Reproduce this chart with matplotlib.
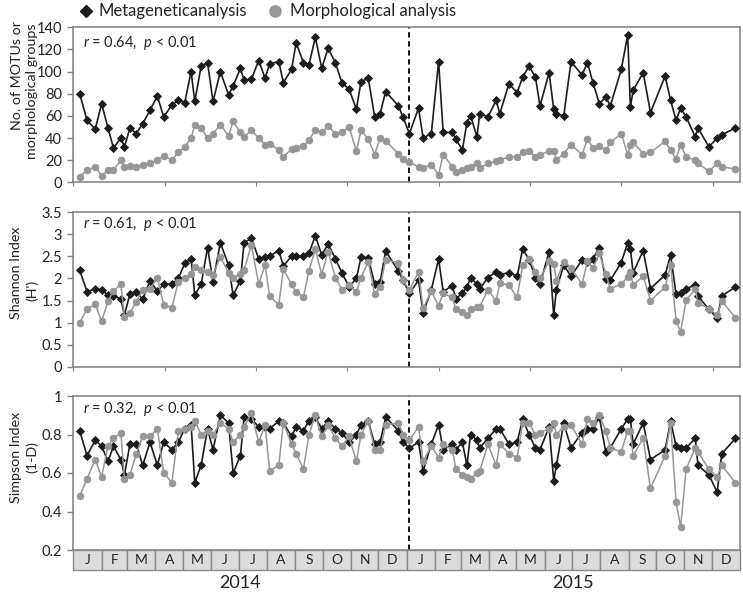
import numpy as np
import matplotlib
matplotlib.use('Agg')
import matplotlib.pyplot as plt
import matplotlib.transforms as mtransforms
from matplotlib.patches import Rectangle
from matplotlib.lines import Line2D
from matplotlib.ticker import FuncFormatter

plt.rcParams['font.family'] = ['Lato', 'DejaVu Sans']
plt.rcParams['mathtext.fontset'] = 'custom'
plt.rcParams['mathtext.rm'] = 'Lato'
plt.rcParams['mathtext.it'] = 'Lato:italic'

# sampling dates, days after 1 Jan 2014
sample_day = [7, 15, 24, 31, 38, 44, 52, 56, 62, 69, 76, 84, 92, 99, 108, 115, 122, 129, 133, 140,
              147, 153, 161, 170, 175, 183, 187, 195, 203, 210, 215, 225, 230, 239, 244, 252, 258, 265,
              272, 279, 287, 294, 302, 310, 315, 323, 330, 336, 342, 356, 361, 368,
              378, 383, 392, 400, 405, 415, 419, 426, 431, 435, 442, 445, 454, 463, 467, 477, 486, 492,
              499, 506, 511, 521, 526, 529, 537, 545, 557, 563, 569, 576, 583, 588, 600, 607, 610, 613,
              624, 632, 648, 654, 660, 665, 671, 681, 684, 696, 705, 710, 725]
n_first_year = 52

meta_motu = [80, 56, 48, 71, 49, 31, 40, 32, 49, 44, 53, 65, 78, 59, 70, 74, 72, 100, 73, 105,
             108, 73, 100, 79, 87, 103, 92, 93, 110, 94, 107, 109, 90, 102, 126, 108, 106, 131,
             103, 121, 108, 90, 84, 66, 91, 94, 59, 62, 82, 69, 59, 44,
             67, 40, 44, 109, 45, 45, 39, 29, 54, 60, 41, 62, 59, 74, 62, 89, 81, 95, 105, 95,
             69, 99, 66, 62, 60, 109, 97, 108, 90, 71, 77, 69, 102, 133, 68, 83, 99, 63, 96, 74,
             56, 67, 59, 41, 49, 32, 40, 43, 49]
morph_motu = [5, 11, 14, 6, 11, 11, 20, 14, 15, 14, 16, 17, 20, 24, 20, 27, 32, 40, 52, 49,
              40, 44, 52, 42, 55, 45, 41, 47, 40, 34, 35, 29, 23, 30, 31, 33, 38, 47, 45, 51,
              44, 45, 50, 28, 47, 39, 25, 40, 37, 26, 21, 18,
              14, 13, 16, 7, 25, 14, 9, 11, 13, 14, 17, 13, 17, 19, 20, 23, 23, 27, 28, 23,
              25, 28, 28, 20, 26, 34, 25, 39, 31, 33, 29, 36, 44, 25, 34, 36, 26, 27, 37, 29,
              21, 34, 23, 20, 17, 10, 17, 14, 12]

meta_shannon = [2.19, 1.70, 1.76, 1.75, 1.62, 1.60, 1.54, 1.17, 1.65, 1.70, 1.53, 1.95, 1.71, 1.87,
                1.87, 2.00, 2.34, 2.45, 1.62, 1.87, 2.70, 1.93, 2.81, 2.30, 1.62, 1.95, 2.81, 2.91,
                2.45, 2.48, 2.51, 2.63, 2.28, 2.51, 2.51, 2.51, 2.57, 2.97, 2.53, 2.78, 2.45, 2.13,
                1.81, 2.00, 2.48, 2.47, 1.87, 1.93, 2.62, 2.17, 1.96, 1.66,
                1.96, 1.22, 1.74, 2.44, 1.70, 1.84, 1.53, 1.68, 1.80, 2.02, 1.87, 1.76, 2.02, 2.15,
                2.09, 2.13, 2.05, 2.67, 2.43, 2.02, 1.87, 2.61, 1.17, 1.75, 2.30, 2.05, 2.42, 2.38,
                2.45, 2.70, 1.98, 1.96, 2.36, 2.81, 2.67, 2.13, 2.63, 1.77, 2.08, 2.53, 1.65, 1.68,
                1.77, 1.85, 1.60, 1.30, 1.10, 1.60, 1.81]
morph_shannon = [1.00, 1.30, 1.42, 1.03, 1.49, 1.72, 1.87, 1.13, 1.22, 1.47, 1.74, 1.76, 2.02, 1.40,
                 1.34, 1.93, 2.00, 2.10, 2.27, 2.19, 2.15, 2.08, 2.49, 2.13, 2.02, 2.10, 2.19, 2.76,
                 1.87, 2.30, 1.60, 1.40, 2.21, 1.87, 1.70, 1.57, 2.18, 2.66, 2.09, 2.61, 2.02, 1.75,
                 1.85, 1.70, 2.02, 2.38, 1.65, 1.81, 2.42, 2.36, 1.96, 1.74,
                 2.15, 1.32, 1.71, 1.38, 1.66, 1.57, 1.30, 1.25, 1.17, 1.30, 1.36, 1.36, 1.74, 1.49,
                 1.89, 1.85, 1.57, 2.30, 2.45, 2.15, 2.00, 2.39, 2.33, 1.95, 2.38, 2.24, 1.87, 2.39,
                 2.23, 2.57, 2.11, 1.77, 1.87, 2.04, 2.15, 1.85, 2.05, 1.50, 1.80, 2.30, 1.04, 0.79,
                 1.51, 1.76, 1.45, 1.31, 1.17, 1.49, 1.11]

meta_simpson = [0.82, 0.69, 0.77, 0.74, 0.66, 0.74, 0.67, 0.59, 0.75, 0.75, 0.64, 0.76, 0.64, 0.76,
                0.72, 0.76, 0.83, 0.85, 0.55, 0.64, 0.83, 0.72, 0.90, 0.86, 0.60, 0.69, 0.89, 0.88,
                0.84, 0.84, 0.83, 0.87, 0.86, 0.79, 0.84, 0.82, 0.87, 0.89, 0.83, 0.87, 0.83, 0.81,
                0.76, 0.80, 0.85, 0.87, 0.75, 0.76, 0.89, 0.82, 0.76, 0.73,
                0.76, 0.61, 0.75, 0.85, 0.72, 0.75, 0.72, 0.76, 0.64, 0.80, 0.77, 0.73, 0.78, 0.83,
                0.83, 0.75, 0.76, 0.88, 0.80, 0.73, 0.72, 0.84, 0.56, 0.64, 0.86, 0.73, 0.81, 0.83,
                0.83, 0.89, 0.71, 0.73, 0.83, 0.88, 0.88, 0.75, 0.86, 0.67, 0.72, 0.87, 0.74, 0.73,
                0.73, 0.78, 0.64, 0.59, 0.50, 0.70, 0.78]
morph_simpson = [0.48, 0.57, 0.67, 0.58, 0.74, 0.78, 0.81, 0.57, 0.59, 0.70, 0.79, 0.79, 0.83, 0.60,
                 0.55, 0.82, 0.83, 0.84, 0.87, 0.80, 0.82, 0.80, 0.86, 0.83, 0.76, 0.80, 0.84, 0.91,
                 0.76, 0.85, 0.61, 0.64, 0.86, 0.75, 0.70, 0.62, 0.80, 0.90, 0.79, 0.85, 0.78, 0.74,
                 0.79, 0.66, 0.80, 0.87, 0.72, 0.72, 0.85, 0.86, 0.80, 0.77,
                 0.84, 0.66, 0.74, 0.68, 0.75, 0.72, 0.62, 0.59, 0.58, 0.57, 0.60, 0.61, 0.75, 0.64,
                 0.75, 0.70, 0.68, 0.86, 0.86, 0.80, 0.81, 0.83, 0.86, 0.80, 0.84, 0.85, 0.75, 0.88,
                 0.86, 0.90, 0.82, 0.73, 0.71, 0.82, 0.82, 0.69, 0.78, 0.52, 0.69, 0.86, 0.45, 0.32,
                 0.62, 0.73, 0.71, 0.62, 0.58, 0.64, 0.55]

corr_text = ['0.64', '0.61', '0.32']
month_letters = ['J', 'F', 'M', 'A', 'M', 'J', 'J', 'A', 'S', 'O', 'N', 'D']
years = ['2014', '2015']

BLACK = '#1c1c1c'
GREY = '#969696'
FRAME = '#7f7f7f'

W, H = 743, 593
fig = plt.figure(figsize=(W / 100, H / 100), dpi=100)


def add_panel(top, bottom):
    left, right = 73.3, 740
    return fig.add_axes([left / W, 1 - bottom / H, (right - left) / W, (bottom - top) / H])


panels = [
    (27.3, 182.3, meta_motu, morph_motu, (0, 140), np.arange(0, 141, 20)),
    (212.3, 366.7, meta_shannon, morph_shannon, (0, 3.5), np.arange(0, 3.51, 0.5)),
    (396, 550, meta_simpson, morph_simpson, (0.2, 1.0), np.arange(0.2, 1.01, 0.2)),
]

axes = []
for i, (top, bottom, meta, morph, ylim, yticks) in enumerate(panels):
    ax = add_panel(top, bottom)
    ax.plot(sample_day, meta, color=BLACK, lw=1.2, marker='D', ms=4.0, mfc=BLACK, mec=BLACK,
            mew=0.6, zorder=3)
    ax.plot(sample_day, morph, color=GREY, lw=1.1, marker='o', ms=4.9, mfc=GREY, mec=GREY,
            mew=0.5, zorder=4)
    ax.axvline(sample_day[n_first_year - 1], color='black', lw=1.3, ls=(0, (3, 2)), zorder=2)
    ax.set_xlim(0, 730)
    ax.set_ylim(*ylim)
    ax.set_yticks(yticks)
    ax.yaxis.set_major_formatter(FuncFormatter(lambda v, p: f'{v:g}'))
    ax.set_xticks(np.arange(0, 730, 100))
    ax.tick_params(axis='x', direction='out', length=3 if i < 2 else 0, color=FRAME,
                   labelbottom=False)
    ax.tick_params(axis='y', direction='out', length=4, width=1, color=FRAME,
                   labelsize=10.5, pad=4, labelcolor='#222222')
    for sp in ax.spines.values():
        sp.set_color(FRAME)
        sp.set_linewidth(1.1)
    ax.text(0.015, [0.90, 0.924, 0.915][i], f'$r$ = {corr_text[i]},  $p$ < 0.01',
            transform=ax.transAxes, fontsize=10.5, ha='left', va='center', color='#222222')
    axes.append(ax)

# y-axis titles, line by line as in the reference
ylab = [
    ('No. of MOTUs or', 17, 76), ('morphological groups', 32, 91),
    ('Shannon Index', 16, 273), ("(H')", 32, 290),
    ('Simpson Index', 16, 457), ('(1-D)', 32, 457),
]
for txt, x, y in ylab:
    fig.text(x / W, 1 - y / H, txt, rotation=90, ha='center', va='center', fontsize=10.3,
             color='#222222')

# month boxes under the bottom panel
ax = axes[-1]
trans = mtransforms.blended_transform_factory(ax.transData, ax.transAxes)
starts = np.arange(np.datetime64('2014-01'), np.datetime64('2016-02'), np.timedelta64(1, 'M'))
start_days = (starts.astype('datetime64[D]') - np.datetime64('2014-01-01')).astype(int)
box_h = 20 / 154
for k in range(24):
    x0, x1 = start_days[k], start_days[k + 1]
    ax.add_patch(Rectangle((x0, -box_h), x1 - x0, box_h, transform=trans, clip_on=False,
                           facecolor='#dcdcdc', edgecolor='#8a8a8a', lw=1, zorder=5))
    ax.text((x0 + x1) / 2, -box_h / 2, month_letters[k % 12], transform=trans, ha='center',
            va='center', fontsize=10, color='#222222', zorder=6)
for j, yr in enumerate(years):
    ax.text((start_days[12 * j] + start_days[12 * j + 12]) / 2, -33 / 154, yr, transform=trans,
            ha='center', va='center', fontsize=13, color='#222222')

# legend
fig.add_artist(Line2D([86 / W], [1 - 11 / H], marker='D', ms=6.5, color=BLACK, ls='none',
                      transform=fig.transFigure))
fig.text(98 / W, 1 - 11 / H, 'Metageneticanalysis', ha='left', va='center', fontsize=12,
         color='#222222')
fig.add_artist(Line2D([275 / W], [1 - 11 / H], marker='o', ms=8, color=GREY, ls='none',
                      transform=fig.transFigure))
fig.text(290 / W, 1 - 11 / H, 'Morphological analysis', ha='left', va='center', fontsize=12,
         color='#222222')

fig.savefig('out.png', dpi=100)
